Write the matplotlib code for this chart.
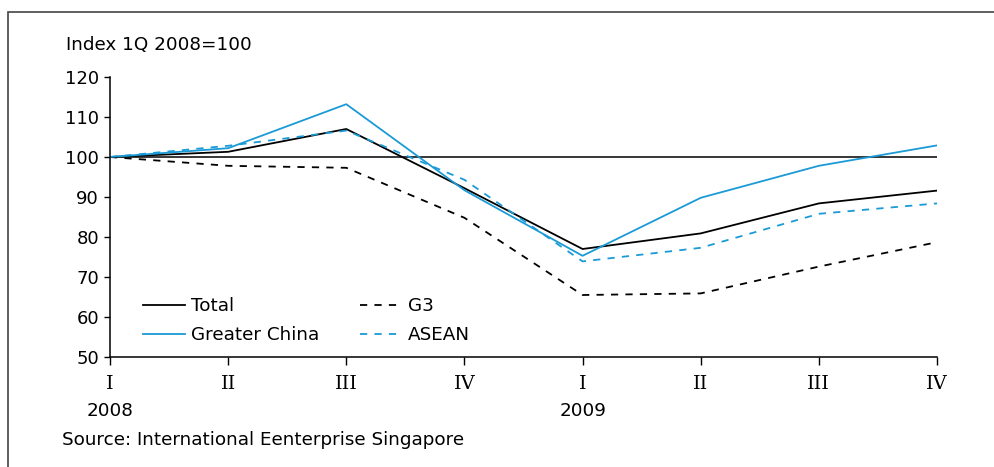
import matplotlib.pyplot as plt
from matplotlib.patches import Rectangle

# 데이터 (Index 1Q 2008 = 100)
quarters = ['I', 'II', 'III', 'IV', 'I', 'II', 'III', 'IV']
years = {0: '2008', 4: '2009'}
total = [100, 101.3, 107.0, 92.2, 77.0, 80.9, 88.4, 91.6]
greater_china = [100, 102.2, 113.2, 91.7, 75.3, 89.8, 97.8, 102.9]
g3 = [100, 97.8, 97.3, 84.8, 65.5, 65.9, 72.6, 78.7]
asean = [100, 102.8, 106.6, 94.3, 73.9, 77.3, 85.8, 88.4]

blue = '#1a9ad6'
fs = 13.2
plt.rcParams['font.family'] = ['DejaVu Sans']

fig = plt.figure(figsize=(9.95, 4.67), dpi=100)
ax = fig.add_axes([110 / 995, 1 - 357 / 467, 827 / 995, 280 / 467])

x = range(len(quarters))
ax.axhline(100, color='black', lw=1.1, zorder=1)
ax.plot(x, total, color='black', lw=1.3, label='Total')
ax.plot(x, greater_china, color=blue, lw=1.3, label='Greater China')
ax.plot(x, g3, color='black', lw=1.3, ls=(0, (4, 4)), label='G3')
ax.plot(x, asean, color=blue, lw=1.3, ls=(0, (4, 4)), label='ASEAN')

ax.set_xlim(0, 7)
ax.set_ylim(50, 120)
ax.set_yticks(range(50, 121, 10))
ax.set_xticks(list(x))
ax.set_xticklabels(quarters, family='DejaVu Serif', fontsize=14)
ax.tick_params(axis='y', length=4, width=1, labelsize=13, pad=4)
ax.tick_params(axis='x', length=6, width=1, pad=7)
for s in ['top', 'right']:
    ax.spines[s].set_visible(False)
for s in ['left', 'bottom']:
    ax.spines[s].set_linewidth(1.1)

for i, yr in years.items():
    ax.text(i, -54 / 280, yr, transform=ax.get_xaxis_transform(),
            ha='center', va='center', fontsize=fs)

ax.legend(ncol=2, frameon=False, fontsize=fs, loc='lower left',
          bbox_to_anchor=(0.04, 0.045), borderpad=0, borderaxespad=0,
          handlelength=2.3, handletextpad=0.33,
          columnspacing=2.2, labelspacing=0.62)

fig.text(66 / 995, 1 - 45 / 467, 'Index 1Q 2008=100', fontsize=fs, va='center')
fig.text(62 / 995, 1 - 440 / 467, 'Source: International Eenterprise Singapore',
         fontsize=fs, va='center')

# 바깥 테두리
fig.patches.append(Rectangle((8 / 995, -0.1), 1.2, 1.1 - 12 / 467,
                             transform=fig.transFigure, fill=False,
                             edgecolor='#444444', lw=1.2))

fig.savefig('out.png', dpi=100)
